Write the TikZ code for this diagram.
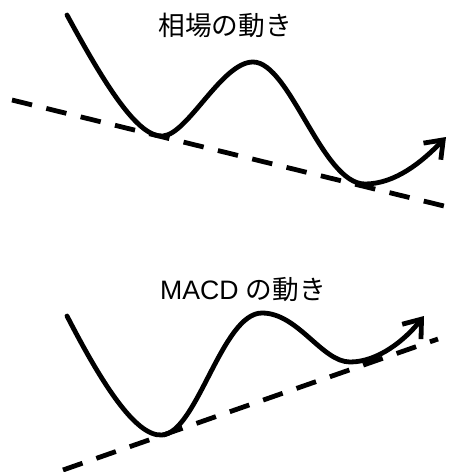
\documentclass[tikz,border=0pt]{standalone}
\usepackage{fontspec}
\setmainfont{Liberation Sans}
\newfontfamily\jp{Noto Sans CJK JP}
\usetikzlibrary{arrows.meta}
\begin{document}
\begin{tikzpicture}[x=0.75pt,y=-0.75pt,
  curve/.style={line width=3.6pt,line cap=round,-{Straight Barb[length=12pt,width=18pt,line width=3.6pt]}},
  trend/.style={line width=3.6pt,dash pattern=on 15.5pt off 11pt},
  title/.style={font=\fontsize{20}{24}\selectfont, inner sep=0pt}]
\useasboundingbox (0,0) rectangle (450,472);
% top
\node[title] (t1) at (225,25) {\jp 相場の動き};
\coordinate (a0) at (67,15);
\coordinate (a1) at (163,136);
\coordinate (a2) at (253,62);
\coordinate (a3) at (365,184);
\coordinate (a4) at (446,137);
\draw[curve] (a0) .. controls (105,85) and (138,138) .. (a1)
  .. controls (188,134) and (222,62) .. (a2)
  .. controls (290,62) and (322,184) .. (a3)
  .. controls (395,184) and (422,162) .. (a4);
\coordinate (d0) at (12,100);
\coordinate (d1) at (448,207);
\draw[trend] (d0) -- (d1);
% bottom
\node[title] (t2) at (243,290) {MACD {\jp の動き}};
\coordinate (b0) at (67,316);
\coordinate (b1) at (162,435);
\coordinate (b2) at (262,313);
\coordinate (b3) at (350,362);
\coordinate (b4) at (424,316);
\draw[curve] (b0) .. controls (100,380) and (135,437) .. (b1)
  .. controls (197,433) and (222,313) .. (b2)
  .. controls (298,313) and (322,362) .. (b3)
  .. controls (378,362) and (405,340) .. (b4);
\coordinate (e0) at (63,470);
\coordinate (e1) at (438,339);
\draw[trend] (e0) -- (e1);
\end{tikzpicture}
\end{document}
